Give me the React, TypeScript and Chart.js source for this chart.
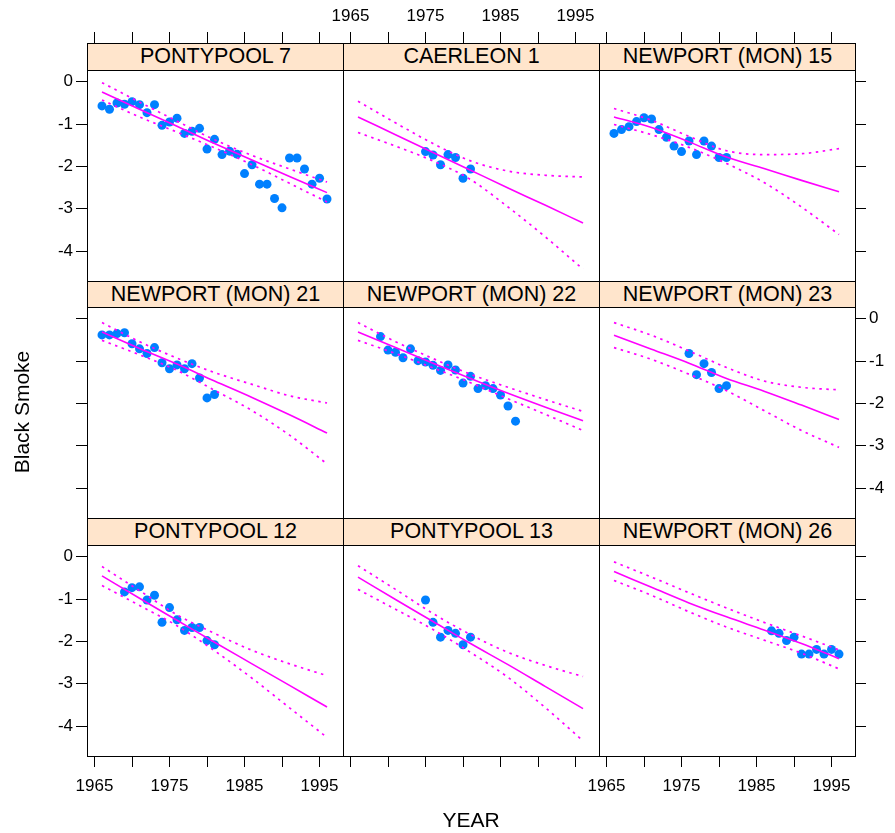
import React, { useEffect, useRef } from "react";
import { Chart, registerables } from "chart.js";

Chart.register(...registerables);

const FONT = "'Liberation Sans', Arial, Helvetica, sans-serif";
const BLUE = "#0080ff";
const MAGENTA = "#ff00ff";
const STRIP_BG = "#ffe5cc";

// ---------------- data ----------------
const SITE_NAMES = [
  "PONTYPOOL 7",
  "CAERLEON 1",
  "NEWPORT (MON) 15",
  "NEWPORT (MON) 21",
  "NEWPORT (MON) 22",
  "NEWPORT (MON) 23",
  "PONTYPOOL 12",
  "PONTYPOOL 13",
  "NEWPORT (MON) 26",
];

const X_TICKS = [1965, 1970, 1975, 1980, 1985, 1990, 1995];
const X_TICK_LABELS = ["1965", "", "1975", "", "1985", "", "1995"];
const Y_TICKS = [0, -1, -2, -3, -4];
const Y_TICK_LABELS = ["0", "-1", "-2", "-3", "-4"];
const X_LIMITS = [1964.0, 1998.13];
const Y_LIMITS = [-4.709, 0.279];
const FIT_YEARS = [1966, 1971, 1976, 1981, 1986, 1991, 1996];

const PONTYPOOL7_YEARS = [1966, 1967, 1968, 1969, 1970, 1971, 1972, 1973, 1974, 1975, 1976, 1977, 1978, 1979, 1980, 1981, 1982, 1983, 1984, 1985, 1986, 1987, 1988, 1989, 1990, 1991, 1992, 1993, 1994, 1995, 1996];
const PONTYPOOL7_SMOKE = [-0.57, -0.65, -0.5, -0.53, -0.47, -0.54, -0.73, -0.54, -1.03, -0.95, -0.86, -1.22, -1.17, -1.1, -1.59, -1.36, -1.72, -1.64, -1.71, -2.17, -1.96, -2.42, -2.42, -2.76, -2.98, -1.8, -1.8, -2.06, -2.42, -2.28, -2.77];
const PONTYPOOL7_FIT = [-0.24, -0.65, -1.05, -1.46, -1.85, -2.24, -2.62];
const PONTYPOOL7_UPPER = [-0.02, -0.48, -0.93, -1.37, -1.74, -2.06, -2.37];
const PONTYPOOL7_LOWER = [-0.43, -0.83, -1.19, -1.56, -1.96, -2.4, -2.84];

const CAERLEON1_YEARS = [1975, 1976, 1977, 1978, 1979, 1980, 1981];
const CAERLEON1_SMOKE = [-1.65, -1.73, -1.96, -1.72, -1.79, -2.28, -2.06];
const CAERLEON1_FIT = [-0.83, -1.25, -1.67, -2.09, -2.51, -2.92, -3.34];
const CAERLEON1_UPPER = [-0.46, -0.97, -1.46, -1.87, -2.11, -2.21, -2.25];
const CAERLEON1_LOWER = [-1.2, -1.52, -1.87, -2.31, -2.96, -3.67, -4.43];

const NEWPORT15_YEARS = [1966, 1967, 1968, 1969, 1970, 1971, 1972, 1973, 1974, 1975, 1976, 1977, 1978, 1979, 1980, 1981];
const NEWPORT15_SMOKE = [-1.22, -1.13, -1.06, -0.94, -0.85, -0.88, -1.13, -1.31, -1.52, -1.65, -1.4, -1.72, -1.4, -1.52, -1.79, -1.79];
const NEWPORT15_FIT = [-0.83, -1.08, -1.42, -1.78, -2.05, -2.33, -2.6];
const NEWPORT15_UPPER = [-0.63, -0.91, -1.29, -1.63, -1.72, -1.7, -1.58];
const NEWPORT15_LOWER = [-1.01, -1.25, -1.55, -1.93, -2.38, -2.96, -3.61];

const NEWPORT21_YEARS = [1966, 1967, 1968, 1969, 1970, 1971, 1972, 1973, 1974, 1975, 1976, 1977, 1978, 1979, 1980, 1981];
const NEWPORT21_SMOKE = [-0.38, -0.38, -0.35, -0.33, -0.59, -0.71, -0.82, -0.68, -1.04, -1.18, -1.09, -1.18, -1.06, -1.4, -1.87, -1.79];
const NEWPORT21_FIT = [-0.31, -0.7, -1.07, -1.47, -1.86, -2.27, -2.7];
const NEWPORT21_UPPER = [-0.09, -0.54, -0.93, -1.27, -1.55, -1.82, -1.99];
const NEWPORT21_LOWER = [-0.51, -0.85, -1.22, -1.69, -2.17, -2.75, -3.43];

const NEWPORT22_YEARS = [1969, 1970, 1971, 1972, 1973, 1974, 1975, 1976, 1977, 1978, 1979, 1980, 1981, 1982, 1983, 1984, 1985, 1986, 1987];
const NEWPORT22_SMOKE = [-0.42, -0.74, -0.79, -0.92, -0.71, -0.99, -1.02, -1.1, -1.22, -1.09, -1.21, -1.52, -1.36, -1.65, -1.58, -1.65, -1.8, -2.06, -2.42];
const NEWPORT22_FIT = [-0.31, -0.68, -1.05, -1.41, -1.76, -2.09, -2.41];
const NEWPORT22_UPPER = [-0.09, -0.54, -0.94, -1.31, -1.62, -1.91, -2.19];
const NEWPORT22_LOWER = [-0.51, -0.82, -1.16, -1.51, -1.89, -2.26, -2.64];

const NEWPORT23_YEARS = [1976, 1977, 1978, 1979, 1980, 1981];
const NEWPORT23_SMOKE = [-0.82, -1.32, -1.06, -1.27, -1.65, -1.58];
const NEWPORT23_FIT = [-0.39, -0.72, -1.05, -1.41, -1.71, -2.04, -2.38];
const NEWPORT23_UPPER = [-0.09, -0.39, -0.76, -1.15, -1.47, -1.62, -1.68];
const NEWPORT23_LOWER = [-0.68, -0.96, -1.31, -1.7, -2.17, -2.64, -3.04];

const PONTYPOOL12_YEARS = [1969, 1970, 1971, 1972, 1973, 1974, 1975, 1976, 1977, 1978, 1979, 1980, 1981];
const PONTYPOOL12_SMOKE = [-0.83, -0.73, -0.71, -1.02, -0.91, -1.55, -1.2, -1.49, -1.74, -1.67, -1.67, -1.98, -2.08];
const PONTYPOOL12_FIT = [-0.45, -0.98, -1.5, -2.02, -2.53, -3.04, -3.55];
const PONTYPOOL12_UPPER = [-0.23, -0.8, -1.37, -1.81, -2.21, -2.53, -2.81];
const PONTYPOOL12_LOWER = [-0.68, -1.15, -1.63, -2.22, -2.87, -3.57, -4.27];

const PONTYPOOL13_YEARS = [1975, 1976, 1977, 1978, 1979, 1980, 1981];
const PONTYPOOL13_SMOKE = [-1.02, -1.55, -1.9, -1.74, -1.81, -2.08, -1.9];
const PONTYPOOL13_FIT = [-0.48, -1.01, -1.53, -2.05, -2.55, -3.07, -3.59];
const PONTYPOOL13_UPPER = [-0.21, -0.77, -1.34, -1.84, -2.26, -2.57, -2.83];
const PONTYPOOL13_LOWER = [-0.77, -1.24, -1.72, -2.26, -2.85, -3.57, -4.35];

const NEWPORT26_YEARS = [1987, 1988, 1989, 1990, 1991, 1992, 1993, 1994, 1995, 1996];
const NEWPORT26_SMOKE = [-1.75, -1.81, -1.98, -1.9, -2.3, -2.3, -2.19, -2.3, -2.19, -2.3];
const NEWPORT26_FIT = [-0.35, -0.72, -1.09, -1.42, -1.73, -2.05, -2.41];
const NEWPORT26_UPPER = [-0.12, -0.48, -0.85, -1.21, -1.55, -1.87, -2.2];
const NEWPORT26_LOWER = [-0.56, -0.91, -1.3, -1.66, -1.97, -2.28, -2.65];

const SITES = [
  { name: SITE_NAMES[0], years: PONTYPOOL7_YEARS, smoke: PONTYPOOL7_SMOKE, fit: PONTYPOOL7_FIT, upper: PONTYPOOL7_UPPER, lower: PONTYPOOL7_LOWER },
  { name: SITE_NAMES[1], years: CAERLEON1_YEARS, smoke: CAERLEON1_SMOKE, fit: CAERLEON1_FIT, upper: CAERLEON1_UPPER, lower: CAERLEON1_LOWER },
  { name: SITE_NAMES[2], years: NEWPORT15_YEARS, smoke: NEWPORT15_SMOKE, fit: NEWPORT15_FIT, upper: NEWPORT15_UPPER, lower: NEWPORT15_LOWER },
  { name: SITE_NAMES[3], years: NEWPORT21_YEARS, smoke: NEWPORT21_SMOKE, fit: NEWPORT21_FIT, upper: NEWPORT21_UPPER, lower: NEWPORT21_LOWER },
  { name: SITE_NAMES[4], years: NEWPORT22_YEARS, smoke: NEWPORT22_SMOKE, fit: NEWPORT22_FIT, upper: NEWPORT22_UPPER, lower: NEWPORT22_LOWER },
  { name: SITE_NAMES[5], years: NEWPORT23_YEARS, smoke: NEWPORT23_SMOKE, fit: NEWPORT23_FIT, upper: NEWPORT23_UPPER, lower: NEWPORT23_LOWER },
  { name: SITE_NAMES[6], years: PONTYPOOL12_YEARS, smoke: PONTYPOOL12_SMOKE, fit: PONTYPOOL12_FIT, upper: PONTYPOOL12_UPPER, lower: PONTYPOOL12_LOWER },
  { name: SITE_NAMES[7], years: PONTYPOOL13_YEARS, smoke: PONTYPOOL13_SMOKE, fit: PONTYPOOL13_FIT, upper: PONTYPOOL13_UPPER, lower: PONTYPOOL13_LOWER },
  { name: SITE_NAMES[8], years: NEWPORT26_YEARS, smoke: NEWPORT26_SMOKE, fit: NEWPORT26_FIT, upper: NEWPORT26_UPPER, lower: NEWPORT26_LOWER },
];

// ---------------- layout ----------------
const COL_LEFT = [87, 343, 599];
const PANEL_W = 256;
const STRIP_TOP = [43, 281, 518];
const PANEL_TOP = [70, 307, 545];
const PANEL_H = 211;
const M = 70;
const TICK_LEN = 11;
const TICK_FONT_SIZE = 17;

const boxPlugin = {
  id: "panelBox",
  afterDatasetsDraw(chart: any) {
    const { ctx, chartArea: a } = chart;
    ctx.save();
    ctx.strokeStyle = "#000";
    ctx.lineWidth = 1;
    ctx.strokeRect(
      Math.round(a.left) + 0.5,
      Math.round(a.top) + 0.5,
      Math.round(a.right - a.left),
      Math.round(a.bottom - a.top)
    );
    ctx.restore();
  },
};

function makeAxis(
  axis: "x" | "y",
  position: string,
  values: number[],
  labels: string[],
  showTicks: boolean,
  showLabels: boolean,
  tickLength: number,
  pad: number,
  limits: number[]
) {
  return {
    type: "linear",
    axis,
    position,
    min: limits[0],
    max: limits[1],
    afterBuildTicks: (s: any) => {
      s.ticks = values.map((v) => ({ value: v }));
    },
    afterFit: (s: any) => {
      if (axis === "x") s.height = M;
      else s.width = M;
    },
    grid: {
      display: showTicks,
      drawOnChartArea: false,
      drawTicks: true,
      tickLength,
      color: "#000",
      lineWidth: 1,
    },
    border: { display: false },
    ticks: {
      display: showLabels,
      autoSkip: false,
      maxRotation: 0,
      minRotation: 0,
      padding: pad,
      color: "#000",
      font: { family: FONT, size: TICK_FONT_SIZE },
      callback: (_v: any, i: number) => labels[i] ?? "",
    },
  };
}

function Panel({ index }: { index: number }) {
  const ref = useRef<HTMLCanvasElement>(null);
  const row = Math.floor(index / 3);
  const col = index % 3;

  useEffect(() => {
    const site = SITES[index];
    const xy = (xs: number[], ys: number[]) => xs.map((x, i) => ({ x, y: ys[i] }));
    const curve = (vals: number[], dash: number[], width: number) => ({
      type: "line",
      data: xy(FIT_YEARS, vals),
      borderColor: MAGENTA,
      borderWidth: width,
      borderDash: dash,
      pointRadius: 0,
      fill: false,
      cubicInterpolationMode: "monotone",
      order: 1,
    });
    const stripH = PANEL_TOP[row] - STRIP_TOP[row];
    const chart = new Chart(ref.current as HTMLCanvasElement, {
      type: "scatter",
      data: {
        datasets: [
          {
            type: "scatter",
            data: xy(site.years, site.smoke),
            pointRadius: 4.5,
            backgroundColor: BLUE,
            borderColor: BLUE,
            borderWidth: 0,
            order: 2,
          },
          curve(site.fit, [], 1.6),
          curve(site.upper, [2.5, 4.5], 1.7),
          curve(site.lower, [2.5, 4.5], 1.7),
        ] as any,
      },
      options: {
        animation: false,
        responsive: false,
        devicePixelRatio: 1,
        events: [],
        layout: { padding: 0 },
        plugins: {
          legend: { display: false },
          tooltip: { enabled: false },
          title: { display: false },
        },
        scales: {
          x: makeAxis("x", "bottom", X_TICKS, X_TICK_LABELS, row === 2, row === 2 && col !== 1, TICK_LEN, 9, X_LIMITS),
          xTop: makeAxis("x", "top", X_TICKS, X_TICK_LABELS, row === 0, row === 0 && col === 1, TICK_LEN + stripH, 5, X_LIMITS),
          y: makeAxis("y", "left", Y_TICKS, Y_TICK_LABELS, col === 0, col === 0 && row !== 1, TICK_LEN, 3, Y_LIMITS),
          yRight: makeAxis("y", "right", Y_TICKS, Y_TICK_LABELS, col === 2, col === 2 && row === 1, TICK_LEN, 3, Y_LIMITS),
        } as any,
      },
      plugins: [boxPlugin],
    } as any);
    return () => chart.destroy();
  }, [index, row, col]);

  return (
    <canvas
      ref={ref}
      width={PANEL_W + 2 * M}
      height={PANEL_H + 2 * M}
      style={{
        position: "absolute",
        left: COL_LEFT[col] - M,
        top: PANEL_TOP[row] - M,
        width: PANEL_W + 2 * M,
        height: PANEL_H + 2 * M,
      }}
    />
  );
}

export default function App() {
  return (
    <div
      style={{
        position: "absolute",
        left: 0,
        top: 0,
        width: 895,
        height: 833,
        overflow: "hidden",
        background: "#fff",
        fontFamily: FONT,
        color: "#000",
      }}
    >
      {SITES.map((_, i) => (
        <Panel key={"p" + i} index={i} />
      ))}
      {SITES.map((s, i) => {
        const row = Math.floor(i / 3);
        const col = i % 3;
        return (
          <div
            key={"s" + i}
            style={{
              position: "absolute",
              left: COL_LEFT[col],
              top: STRIP_TOP[row],
              width: PANEL_W + 1,
              height: PANEL_TOP[row] - STRIP_TOP[row] + 1,
              boxSizing: "border-box",
              border: "1px solid #000",
              background: STRIP_BG,
              display: "flex",
              alignItems: "center",
              justifyContent: "center",
              fontSize: 21.5,
              lineHeight: 1,
              whiteSpace: "nowrap",
            }}
          >
            {s.name}
          </div>
        );
      })}
      <div
        style={{
          position: "absolute",
          left: 22 - 100,
          top: 412 - 12,
          width: 200,
          height: 24,
          lineHeight: "24px",
          textAlign: "center",
          fontSize: 21,
          transform: "rotate(-90deg)",
          whiteSpace: "nowrap",
        }}
      >
        Black Smoke
      </div>
      <div
        style={{
          position: "absolute",
          left: 471 - 100,
          top: 820 - 12,
          width: 200,
          height: 24,
          lineHeight: "24px",
          textAlign: "center",
          fontSize: 21,
          whiteSpace: "nowrap",
        }}
      >
        YEAR
      </div>
    </div>
  );
}
